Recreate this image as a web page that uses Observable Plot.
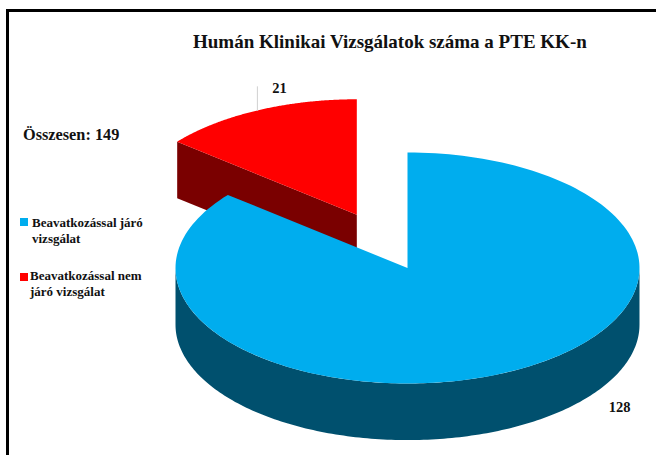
<!DOCTYPE html>
<html lang="hu">
<head>
<meta charset="utf-8">
<script src="https://cdn.jsdelivr.net/npm/d3@7"></script>
<script src="https://cdn.jsdelivr.net/npm/@observablehq/plot@0.6"></script>
<style>
  html, body { margin: 0; padding: 0; background: #fff; }
  #page { position: relative; width: 656px; height: 455px; overflow: hidden;
          font-family: "Liberation Serif", serif; font-weight: bold; color: #111; }
  #frame { position: absolute; left: 6px; top: 9px; width: 660px; height: 460px;
           border: 3px solid #000; box-sizing: border-box; pointer-events: none; }
  #page svg { position: absolute; left: 0; top: 0; }
  .t { position: absolute; white-space: nowrap; }
  .sw { position: absolute; width: 8px; height: 8px; }
</style>
</head>
<body>
<div id="page">
  <div id="frame"></div>
  <div id="chart"></div>
  <div class="t" id="title" style="left:193px;top:31px;font-size:19px;line-height:22px"></div>
  <div class="t" id="total" style="left:23px;top:125px;font-size:16.3px;line-height:20px"></div>
  <div id="legend"></div>
</div>
<script>
const categories = ["Beavatkozással járó vizsgálat", "Beavatkozással nem járó vizsgálat"];
const values = [128, 21];
const legendLines = [["Beavatkozással járó", "vizsgálat"], ["Beavatkozással nem", "járó vizsgálat"]];
const topColors = ["#00adee", "#ff0000"];
const sideColors = ["#00506e", "#7a0000"];
const titleText = "Humán Klinikai Vizsgálatok száma a PTE KK-n";
const totalLabel = "Összesen";

// Pie geometry in unit-radius coordinates (y up); explode and depth are chart settings.
const explode = [0, 0.51];
const depth = 0.49;
const total = d3.sum(values);

let acc = 0;
const slices = values.map((v, i) => {
  const a0 = acc / total * 2 * Math.PI;
  acc += v;
  const a1 = acc / total * 2 * Math.PI;
  const mid = (a0 + a1) / 2;
  return { i, v, a0, a1, mid, cx: explode[i] * Math.sin(mid), cy: explode[i] * Math.cos(mid) };
});

const rim = (s, a) => ({ x: s.cx + Math.sin(a), y: s.cy + Math.cos(a) });
const arcPts = (s, from, to) => d3.range(0, 181).map(k => rim(s, from + (to - from) * k / 180));
const tag = (pts, key) => pts.map(p => ({ ...p, key }));

const blue = slices[0], red = slices[1];

// Top faces
const blueTop = tag([{ x: blue.cx, y: blue.cy }, ...arcPts(blue, blue.a0, blue.a1)], "blueTop");
const redTop = tag([{ x: red.cx, y: red.cy }, ...arcPts(red, red.a0, red.a1)], "redTop");

// Blue outer wall: the front half of the rim, from the right extreme to the left extreme
const front = arcPts(blue, Math.PI / 2, 3 * Math.PI / 2);
const blueWall = tag([...front, ...front.slice().reverse().map(p => ({ x: p.x, y: p.y - depth }))], "blueWall");

// Red cut wall: the radius at the slice's start angle, extruded downward
const redEdge = [rim(red, red.a0), { x: red.cx, y: red.cy }];
const redWall = tag([...redEdge, ...redEdge.slice().reverse().map(p => ({ x: p.x, y: p.y - depth }))], "redWall");

const poly = (pts, fill) => Plot.line(pts, { x: "x", y: "y", fill, stroke: "none", curve: "linear-closed" });

// Leader for the 21 label leaves the rim at the slice's mid angle
const leaderStart = rim(red, red.mid);
const leader = [leaderStart, { x: leaderStart.x, y: leaderStart.y + 0.205 }];

const labels = [
  { x: leaderStart.x + 0.095, y: leaderStart.y + 0.195, text: String(values[1]) },
  { x: 0.914, y: -1.203, text: String(values[0]) }
];

const rx = 232, ry = 115.5, cxPx = 407, cyPx = 267.5;
const chart = Plot.plot({
  width: 656,
  height: 455,
  margin: 0,
  style: { background: "transparent" },
  x: { domain: [-cxPx / rx, (656 - cxPx) / rx], axis: null },
  y: { domain: [-(455 - cyPx) / ry, cyPx / ry], axis: null },
  marks: [
    poly(redWall, sideColors[1]),
    poly(redTop, topColors[1]),
    poly(blueWall, sideColors[0]),
    poly(blueTop, topColors[0]),
    Plot.line(leader, { x: "x", y: "y", stroke: "#d0d0d0", strokeWidth: 1 }),
    Plot.text(labels, { x: "x", y: "y", text: "text", fontFamily: "Liberation Serif", fontWeight: "bold", fontSize: 14.5, fill: "#111" })
  ]
});
document.getElementById("chart").append(chart);

document.getElementById("title").textContent = titleText;
document.getElementById("total").textContent = `${totalLabel}: ${total}`;

const legend = document.getElementById("legend");
const swatchPos = [{ l: 20, t: 218, tx: 32, ty: 215 }, { l: 20, t: 273, tx: 30, ty: 268 }];
categories.forEach((c, i) => {
  const sw = document.createElement("div");
  sw.className = "sw";
  sw.title = c;
  sw.style.cssText = `left:${swatchPos[i].l}px;top:${swatchPos[i].t}px;background:${topColors[i]}`;
  legend.append(sw);
  legendLines[i].forEach((line, j) => {
    const d = document.createElement("div");
    d.className = "t";
    d.textContent = line;
    d.style.cssText = `left:${swatchPos[i].tx}px;top:${swatchPos[i].ty + j * 16}px;font-size:13px;line-height:16px`;
    legend.append(d);
  });
});
</script>
</body>
</html>
